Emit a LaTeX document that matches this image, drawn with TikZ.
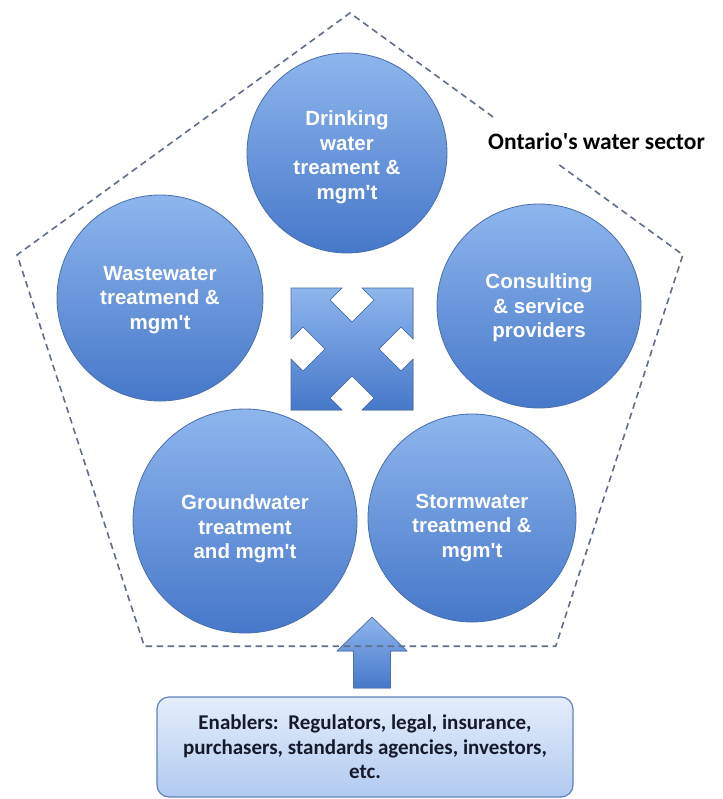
\documentclass[tikz,border=0pt]{standalone}
\usepackage{fontspec}
\setmainfont{Liberation Sans}
\newfontfamily\calib{Carlito}
\newcommand\apos{\textquotesingle}
\definecolor{cTop}{RGB}{142,182,237}
\definecolor{cBot}{RGB}{70,120,202}
\definecolor{cEdge}{RGB}{72,110,172}
\definecolor{dashc}{RGB}{96,110,138}
\definecolor{bTop}{RGB}{228,238,251}
\definecolor{bBot}{RGB}{176,202,240}
\definecolor{bEdge}{RGB}{96,130,188}
\definecolor{navytext}{RGB}{22,26,44}
\tikzset{
  bubble/.style={circle, draw=cEdge, line width=0.8pt, top color=cTop, bottom color=cBot, inner sep=0pt},
  btext/.style={text=white, font=\bfseries\fontsize{20.5}{24.5}\selectfont, align=center, inner sep=0pt},
  blockarrow/.style={draw=cEdge, line width=0.6pt, top color=cTop, bottom color=cBot},
  sector/.style={draw=dashc, line width=1.6pt, dash pattern=on 6.5pt off 4.5pt, line join=miter},
  enabler/.style={rectangle, rounded corners=12pt, draw=bEdge, line width=1.2pt, top color=bTop, bottom color=bBot,
     minimum width=416pt, minimum height=100pt, align=center, inner sep=0pt,
     font=\calib\bfseries\fontsize{21}{24.5}\selectfont, text=navytext},
  title/.style={font=\calib\bfseries\fontsize{23.5}{27}\selectfont, text=black, inner sep=0pt, anchor=base west}
}
\begin{document}
\begin{tikzpicture}[x=1pt,y=-1pt]
\useasboundingbox[fill=white] (0,0) rectangle (722,799);

% circles
\node[bubble, minimum size=200pt] (dw) at (347,153) {};
\node[bubble, minimum size=206pt] (ww) at (160,298) {};
\node[bubble, minimum size=204pt] (cs) at (539,306) {};
\node[bubble, minimum size=224pt] (gw) at (245,521) {};
\node[bubble, minimum size=208pt] (sw) at (472,518) {};

\node[btext] (dwt) at (347,157) {Drinking\\water\\treament \&\\mgm\apos t};
\node[btext] (wwt) at (160,300) {Wastewater\\treatmend \&\\mgm\apos t};
\node[btext] (cst) at (539,308) {Consulting\\\& service\\providers};
\node[btext] (gwt) at (245,529) {Groundwater\\treatment\\and mgm\apos t};
\node[btext] (swt) at (472,528) {Stormwater\\treatmend \&\\mgm\apos t};

% central four-way arrow
\filldraw[blockarrow, shift={(352,349)}]
  (-61,-61) -- (-10,-61) -- (-22,-49) -- (0,-27) -- (22,-49) -- (10,-61) --
  (61,-61) -- (61,-10) -- (49,-22) -- (27,0) -- (49,22) -- (61,10) --
  (61,61) -- (10,61) -- (22,49) -- (0,27) -- (-22,49) -- (-10,61) --
  (-61,61) -- (-61,10) -- (-49,22) -- (-27,0) -- (-49,-22) -- (-61,-10) -- cycle;

% enablers box
\node[enabler] (en) at (365,747) {Enablers:\ \ Regulators, legal, insurance,\\purchasers, standards agencies, investors,\\etc.};

% up arrow
\coordinate (tip) at (372,617);
\filldraw[blockarrow] (tip) -- (407,651) -- (390.5,651) -- (390.5,688) -- (353.5,688) -- (353.5,651) -- (337,651) -- cycle;

% dashed pentagon with gap for the title
\coordinate (gapA) at (493,116.9);
\coordinate (ptop) at (350,13);
\coordinate (pleft) at (17.1,254.8);
\coordinate (pbl) at (144.3,646.2);
\coordinate (pbr) at (555.7,646.2);
\coordinate (pright) at (682.9,254.8);
\coordinate (gapB) at (557,163.3);
\draw[sector] (gapA) -- (ptop) -- (pleft) -- (pbl) -- (pbr) -- (pright) -- (gapB);

\node[title] (ttl) at (488,150) {Ontario\apos s water sector};
\end{tikzpicture}
\end{document}
